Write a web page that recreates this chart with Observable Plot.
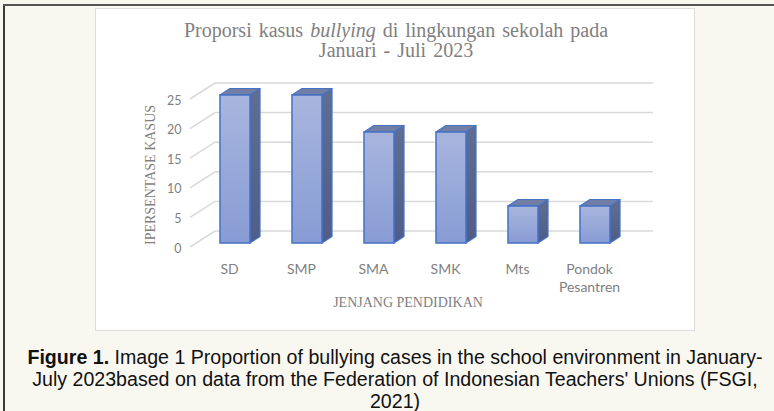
<!DOCTYPE html>
<html>
<head>
<meta charset="utf-8">
<script src="https://cdn.jsdelivr.net/npm/d3@7"></script>
<script src="https://cdn.jsdelivr.net/npm/@observablehq/plot@0.6"></script>
<style>
html,body{margin:0;padding:0;background:#f9f8f0;width:774px;height:411px;overflow:hidden;position:relative;}
#frameL{position:absolute;left:3px;top:4px;width:2px;height:407px;background:#3a3a3a}
#frameT{position:absolute;left:3px;top:4px;width:771px;height:2px;background:#555}
#box{position:absolute;left:95px;top:8px;width:598px;height:321px;background:#fff;border:1.5px solid #dcdcdc}
#title{position:absolute;left:96px;top:20px;width:600px;text-align:center;font-family:"Liberation Serif",serif;font-size:20px;line-height:20px;color:#808080;white-space:nowrap}
#title .l1{word-spacing:2px}
#title .l2{word-spacing:2px}
#chart{position:absolute;left:95px;top:70px}
#caption{position:absolute;left:20px;width:750px;top:346px;text-align:center;font-family:"Liberation Sans",Arial,sans-serif;font-size:19.6px;line-height:22px;color:#111;white-space:nowrap}
</style>
</head>
<body>
<div id="frameL"></div>
<div id="frameT"></div>
<div id="box"></div>
<div id="title"><span class="l1">Proporsi kasus <i>bullying</i> di lingkungan sekolah pada</span><br><span class="l2">Januari - Juli 2023</span></div>
<div id="chart"></div>
<div id="caption"><b>Figure 1.</b> Image 1 Proportion of bullying cases in the school environment in January-<br>July 2023based on data from the Federation of Indonesian Teachers' Unions (FSGI,<br>2021)</div>
<script>
const categories = ["SD", "SMP", "SMA", "SMK", "Mts", "Pondok Pesantren"];
const tickLabels = ["SD", "SMP", "SMA", "SMK", "Mts", "Pondok\nPesantren"];
const values = [25, 25, 18.75, 18.75, 6.25, 6.25];
const yTicks = [0, 5, 10, 15, 20, 25];
const yTitle = "IPERSENTASE KASUS";
const xTitle = "JENJANG PENDIDIKAN";

const data = categories.map((c, i) => ({c, v: values[i], label: tickLabels[i]}));
const DX = 10, DY = 6.5;

const defs = () => {
  const d = d3.create("svg:defs");
  const g1 = d.append("linearGradient").attr("id", "frontGrad").attr("x1", 0).attr("y1", 0).attr("x2", 0).attr("y2", 1);
  g1.append("stop").attr("offset", "0%").attr("stop-color", "#a8b6de");
  g1.append("stop").attr("offset", "100%").attr("stop-color", "#889bd4");
  const g2 = d.append("linearGradient").attr("id", "sideGrad").attr("x1", 0).attr("y1", 0).attr("x2", 0).attr("y2", 1);
  g2.append("stop").attr("offset", "0%").attr("stop-color", "#616e93");
  g2.append("stop").attr("offset", "100%").attr("stop-color", "#4f5d88");
  return d.node();
};

const grid = (index, scales, vals, dim) => {
  const y = scales.y;
  const g = d3.create("svg:g");
  const x0 = dim.marginLeft, x1 = x0 + 25, x2 = dim.width - dim.marginRight;
  for (const t of yTicks) {
    const yy = y(t);
    g.append("path").attr("d", `M${x0},${yy + 4}L${x1},${yy - 12}H${x2}`)
      .attr("fill", "none").attr("stroke", "#d9d9d9").attr("stroke-width", 1.5);
  }
  return g.node();
};

const faces = (index, scales) => {
  const {x, y} = scales;
  const bw = x.bandwidth();
  const g = d3.create("svg:g").attr("stroke", "#4472c4").attr("stroke-width", 1.2).attr("stroke-linejoin", "round");
  for (const d of data) {
    const xl = x(d.c), xr = xl + bw, yt = y(d.v), yb = y(0);
    g.append("path").attr("d", `M${xr},${yt}L${xr + DX},${yt - DY}L${xr + DX},${yb - DY}L${xr},${yb}Z`).attr("fill", "url(#sideGrad)");
    g.append("path").attr("d", `M${xl},${yt}L${xl + DX},${yt - DY}L${xr + DX},${yt - DY}L${xr},${yt}Z`).attr("fill", "#717fa6");
  }
  return g.node();
};

const plot = Plot.plot({
  width: 600,
  height: 250,
  marginLeft: 95,
  marginRight: 42,
  marginTop: 25,
  marginBottom: 77,
  style: {background: "transparent", overflow: "visible"},
  x: {domain: categories, paddingInner: 0.589, paddingOuter: 0.466, align: 0.41, axis: null},
  y: {domain: [0, 25], axis: null},
  marks: [
    defs,
    grid,
    faces,
    Plot.barY(data, {x: "c", y: "v", fill: "url(#frontGrad)", stroke: "#4472c4", strokeWidth: 1.5}),
    Plot.text(yTicks, {y: d => d, text: d => String(d), frameAnchor: "left", dx: -9, dy: 5, textAnchor: "end", fill: "#7f7f7f", fontSize: 12.5, fontFamily: "Lato"}),
    Plot.text(data, {x: "c", y: 0, text: "label", lineAnchor: "top", dx: -6, dy: 17, lineHeight: 1.31, fill: "#7f7f7f", fontSize: 14, fontFamily: "Lato"}),
    Plot.text([yTitle], {frameAnchor: "left", textAnchor: "middle", rotate: -90, dx: -40, dy: 5.5, fill: "#7f7f7f", fontSize: 14, fontFamily: "Liberation Serif"}),
    Plot.text([xTitle], {frameAnchor: "bottom", textAnchor: "middle", dx: -14, dy: 63, fill: "#7f7f7f", fontSize: 14, fontFamily: "Liberation Serif"})
  ]
});
document.getElementById("chart").appendChild(plot);
</script>
</body>
</html>
